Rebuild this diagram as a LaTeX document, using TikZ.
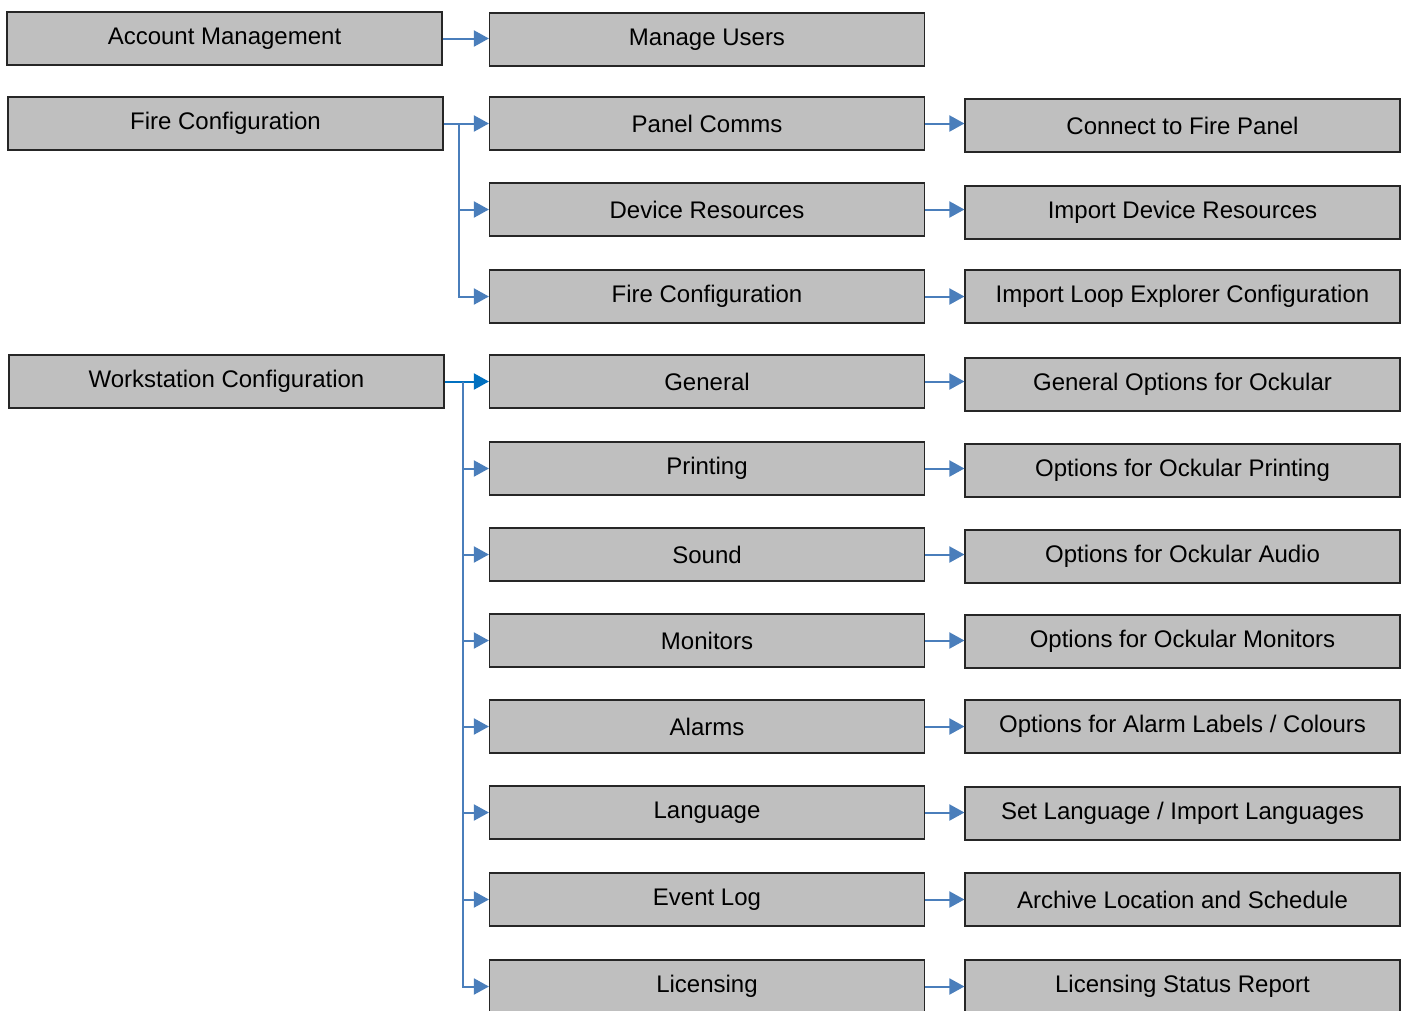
\documentclass[tikz,border=0pt]{standalone}
\usepackage{fontspec}
\setmainfont{Liberation Sans}
\usetikzlibrary{arrows.meta}
\definecolor{boxgray}{RGB}{191,191,191}
\definecolor{linkblue}{RGB}{74,126,187}
\definecolor{brightblue}{RGB}{0,112,192}
\tikzset{
  menubox/.style={draw=black!85, line width=1.2pt, fill=boxgray, minimum width=435pt, minimum height=53pt, inner sep=0pt, font=\fontsize{24}{28}\selectfont},
  link/.style={draw=linkblue, line width=2pt, -{Triangle[length=15pt,width=16pt]}},
}
\begin{document}
\begin{tikzpicture}[x=1pt,y=-1pt]
\useasboundingbox (0,0) rectangle (1407,1010);
% column 1
\node[menubox] (am) at (224.5,38.5) {Account Management};
\node[menubox] (fc) at (225.5,123.5) {Fire Configuration};
\node[menubox] (wc) at (226.5,381.5) {Workstation Configuration};
% column 2
\node[menubox] (mu) at (707,39.5) {Manage Users};
\node[menubox] (pc) at (707,123.5) {Panel Comms};
\node[menubox] (dr) at (707,209.5) {Device Resources};
\node[menubox] (fc2) at (707,296.5) {Fire Configuration};
\node[menubox] (ge) at (707,381.5) {General};
\node[menubox] (pr) at (707,468.5) {Printing};
\node[menubox] (so) at (707,554.5) {Sound};
\node[menubox] (mo) at (707,640.5) {Monitors};
\node[menubox] (al) at (707,726.5) {Alarms};
\node[menubox] (la) at (707,812.5) {Language};
\node[menubox] (ev) at (707,899.5) {Event Log};
\node[menubox] (li) at (707,986.5) {Licensing};
% column 3
\node[menubox] (cf) at (1182.5,125.5) {Connect to Fire Panel};
\node[menubox] (id) at (1182.5,212.5) {Import Device Resources};
\node[menubox] (il) at (1182.5,296.5) {Import Loop Explorer Configuration};
\node[menubox] (go) at (1182.5,384.5) {General Options for Ockular};
\node[menubox] (op) at (1182.5,470.5) {Options for Ockular Printing};
\node[menubox] (oa) at (1182.5,556.5) {Options for Ockular Audio};
\node[menubox] (om) at (1182.5,641.5) {Options for Ockular Monitors};
\node[menubox] (ol) at (1182.5,726.5) {Options for Alarm Labels / Colours};
\node[menubox] (sl) at (1182.5,813.5) {Set Language / Import Languages};
\node[menubox] (ar) at (1182.5,899.5) {Archive Location and Schedule};
\node[menubox] (ls) at (1182.5,986.5) {Licensing Status Report};
% trunk points
\coordinate (t1) at (459,123.5);
\coordinate (t2) at (463,381.5);
% column 1 -> column 2
\draw[link] (am.east) -- (am.east -| mu.west);
\draw[link] (fc.east) -- (fc.east -| pc.west);
\draw[link] (t1) |- (dr.west);
\draw[link] (t1) |- (fc2.west);
\draw[link, draw=brightblue] (wc.east) -- (wc.east -| ge.west);
\draw[link] (t2) |- (pr.west);
\draw[link] (t2) |- (so.west);
\draw[link] (t2) |- (mo.west);
\draw[link] (t2) |- (al.west);
\draw[link] (t2) |- (la.west);
\draw[link] (t2) |- (ev.west);
\draw[link] (t2) |- (li.west);
% column 2 -> column 3
\draw[link] (pc.east) -- (pc.east -| cf.west);
\draw[link] (dr.east) -- (dr.east -| id.west);
\draw[link] (fc2.east) -- (fc2.east -| il.west);
\draw[link] (ge.east) -- (ge.east -| go.west);
\draw[link] (pr.east) -- (pr.east -| op.west);
\draw[link] (so.east) -- (so.east -| oa.west);
\draw[link] (mo.east) -- (mo.east -| om.west);
\draw[link] (al.east) -- (al.east -| ol.west);
\draw[link] (la.east) -- (la.east -| sl.west);
\draw[link] (ev.east) -- (ev.east -| ar.west);
\draw[link] (li.east) -- (li.east -| ls.west);
\end{tikzpicture}
\end{document}
